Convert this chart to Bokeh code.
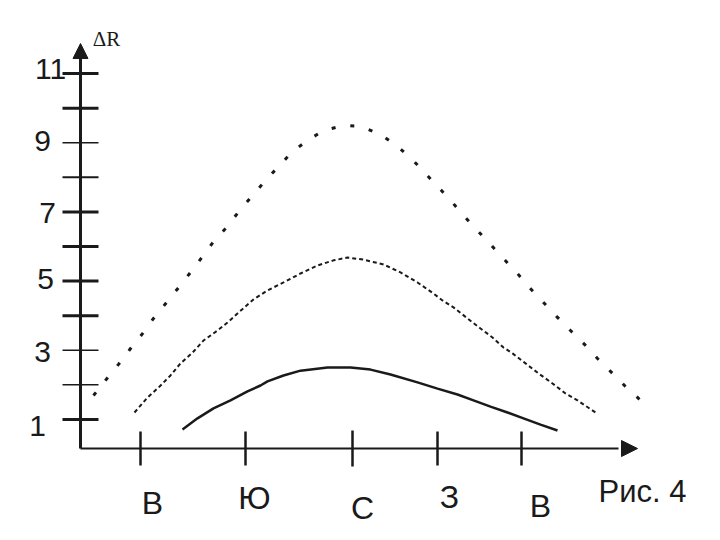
from bokeh.plotting import figure
from bokeh.models import Range1d, FixedTicker, Arrow, NormalHead, ColumnDataSource
from bokeh.core.properties import value
from bokeh.embed import file_html
from bokeh.resources import INLINE
import math

# ---------------- data ----------------
dir_labels = ["В", "Ю", "С", "З", "В"]
dir_pos = [60, 165, 272, 357, 441]

y_ticks = [1, 2, 3, 4, 5, 6, 7, 8, 9, 10, 11]
y_label_vals = [1, 3, 5, 7, 9, 11]
y_label_text = ["1", "3", "5", "7", "9", "11"]

outer_x = [13, 25, 38, 50, 62, 73, 86, 98, 110, 122, 133, 147, 159, 172, 184, 198, 211, 227, 243,
           263, 281, 300, 316, 331, 344, 358, 372, 383, 397, 410, 423, 437, 449, 463, 476, 490,
           504, 517, 531, 545, 559]
outer_y = [1.69, 2.13, 2.59, 3.05, 3.48, 3.92, 4.38, 4.81, 5.25, 5.71, 6.14, 6.58, 7.04, 7.47,
           7.88, 8.31, 8.72, 9.07, 9.35, 9.50, 9.47, 9.24, 8.92, 8.54, 8.14, 7.71, 7.27, 6.90,
           6.46, 6.06, 5.65, 5.22, 4.81, 4.38, 3.98, 3.57, 3.17, 2.76, 2.36, 1.95, 1.58]

middle_x = [54, 67, 78, 90, 100, 112, 123, 137, 147, 158, 173, 187, 203, 220, 237, 253, 267,
            283, 303, 320, 337, 353, 362, 373, 387, 400, 412, 423, 432, 445, 458, 472, 485,
            497, 515]
middle_y = [1.20, 1.63, 1.92, 2.27, 2.62, 2.93, 3.28, 3.57, 3.80, 4.09, 4.47, 4.73, 4.96, 5.22,
            5.45, 5.60, 5.68, 5.62, 5.48, 5.25, 4.96, 4.64, 4.44, 4.24, 3.92, 3.63, 3.37, 3.08,
            2.91, 2.62, 2.33, 2.04, 1.75, 1.55, 1.20]

inner_x = [102, 117, 133, 150, 167, 180, 187, 203, 220, 247, 270, 290, 310, 337, 357, 377,
           393, 410, 427, 443, 460, 477]
inner_y = [0.71, 1.03, 1.32, 1.55, 1.81, 1.98, 2.10, 2.27, 2.41, 2.50, 2.50, 2.44, 2.30, 2.07,
           1.89, 1.72, 1.55, 1.37, 1.20, 1.03, 0.85, 0.68]

# ---------------- layout / style (px) ----------------
X_AXIS_AT = 0.158
Y_AXIS_TOP = 11.44
X_AXIS_END = 538
y_tick_widths = [3, 1.5, 1.5, 3, 3, 3, 3, 2, 1.5, 3, 3]
x_tick_sizes = [34, 34, 36, 34, 34]
y_label_dx = [-43, -38, -35, -33, -38, -30]
y_label_dy = [7, 2, -2, 1, -2, -5]
dir_dx = [12, 9, 10, 12, 19]
dir_dy = [54, 49, 59, 48, 57]
INK = "#1a1a1a"

p = figure(width=720, height=540, x_range=Range1d(-80, 640), y_range=Range1d(-2.502, 13.114),
           min_border=0, min_border_left=0, min_border_right=0, min_border_top=0,
           min_border_bottom=0, toolbar_location=None, output_backend="svg")
p.outline_line_color = None
p.xgrid.visible = False
p.ygrid.visible = False
p.background_fill_color = "white"
p.border_fill_color = "white"

# axis lines (ticks drawn below as marks, labels as text)
ya = p.yaxis[0]
ya.fixed_location = 0
ya.bounds = (X_AXIS_AT, Y_AXIS_TOP)
ya.ticker = FixedTicker(ticks=[])
ya.major_tick_line_color = None
ya.minor_tick_line_color = None
ya.axis_line_width = 3
ya.axis_line_color = INK
ya.major_label_text_color = None

xa = p.xaxis[0]
xa.fixed_location = X_AXIS_AT
xa.bounds = (0, X_AXIS_END)
xa.ticker = FixedTicker(ticks=[])
xa.major_tick_line_color = None
xa.minor_tick_line_color = None
xa.axis_line_width = 2
xa.axis_line_color = INK
xa.major_label_text_color = None

# tick marks
p.scatter(x=[0] * len(y_ticks), y=y_ticks, marker="dash", size=36,
          line_width=y_tick_widths, line_color=INK)
p.scatter(x=dir_pos, y=[X_AXIS_AT] * len(dir_pos), marker="dash", size=x_tick_sizes,
          angle=math.pi / 2, line_width=2.5, line_color=INK)

# arrow heads
p.add_layout(Arrow(end=NormalHead(size=15, fill_color=INK, line_color=INK),
                   x_start=0, y_start=Y_AXIS_TOP, x_end=0, y_end=11.87, line_alpha=0))
p.add_layout(Arrow(end=NormalHead(size=16, fill_color=INK, line_color=INK),
                   x_start=X_AXIS_END, y_start=X_AXIS_AT, x_end=557, y_end=X_AXIS_AT,
                   line_alpha=0))

# curves
p.line(outer_x, outer_y, line_color=INK, line_width=3, line_dash="4 15")
p.line(middle_x, middle_y, line_color=INK, line_width=2, line_dash="4 3")
p.line(inner_x, inner_y, line_color=INK, line_width=2.5)

# y labels
ysrc = ColumnDataSource(dict(x=[0] * len(y_label_vals), y=y_label_vals, t=y_label_text,
                             dx=y_label_dx, dy=y_label_dy))
p.text(x="x", y="y", text="t", x_offset="dx", y_offset="dy", source=ysrc,
       text_font=value("Liberation Sans"), text_font_size="30px", text_align="center",
       text_baseline="middle", text_color=INK)

# x labels
xsrc = ColumnDataSource(dict(x=dir_pos, y=[X_AXIS_AT] * len(dir_pos), t=dir_labels,
                             dx=dir_dx, dy=dir_dy))
p.text(x="x", y="y", text="t", x_offset="dx", y_offset="dy", source=xsrc,
       text_font=value("Liberation Sans"), text_font_size="32px", text_align="center",
       text_baseline="middle", text_color=INK)

# captions
p.text(x=[562], y=[X_AXIS_AT], text=["Рис. 4"], y_offset=43,
       text_font=value("Liberation Sans"), text_font_size="31px", text_align="center",
       text_baseline="middle", text_color=INK)
p.text(x=[26], y=[12.01], text=["ΔR"],
       text_font=value("Liberation Serif"), text_font_size="21px", text_align="center",
       text_baseline="middle", text_color=INK)

open("out.html", "w").write(file_html(p, INLINE))
